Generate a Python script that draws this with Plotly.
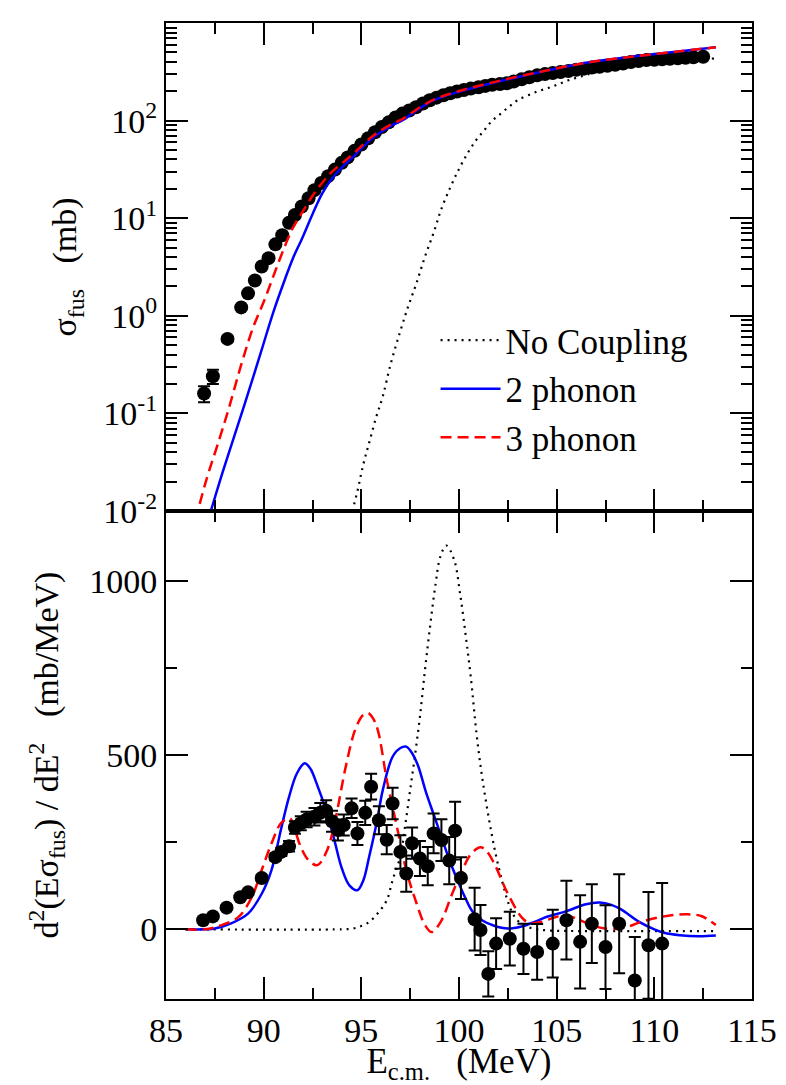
import plotly.graph_objects as go

FONT = "Liberation Serif"

# ---------------- top panel: fusion cross section (mb) ----------------
e_sig = [86.95, 87.4, 88.15, 88.85, 89.2, 89.55, 89.9, 90.25, 90.6, 90.95, 91.3, 91.6,
         91.95, 92.3, 92.6, 92.95, 93.3, 93.65, 94.0, 94.3, 94.65, 95.0, 95.35, 95.7,
         96.05, 96.4, 96.75, 97.1, 97.45, 97.8, 98.15, 98.5, 98.85, 99.2, 99.55, 99.9,
         100.25, 100.6, 101.0, 101.35, 101.7, 102.1, 102.45, 102.8, 103.2, 103.6, 104.0,
         104.4, 104.8, 105.2, 105.6, 106.0, 106.4, 106.8, 107.2, 107.6, 108.0, 108.4,
         108.8, 109.2, 109.6, 110.0, 110.4, 110.8, 111.2, 111.6, 112.0, 112.5]
sig = [0.16, 0.24, 0.58, 1.22, 1.7, 2.3, 3.2, 3.9, 5.4, 6.7, 9.0, 10.8,
       13.2, 16.0, 19.4, 23.0, 27.0, 31.5, 37.0, 42.0, 49.0, 57.0, 66.0, 76.0,
       86.0, 96.0, 108.0, 118.0, 127.0, 137.0, 150.0, 162.0, 172.0, 182.0, 191.0, 199.0,
       206.0, 213.0, 220.0, 227.0, 233.0, 237.0, 242.0, 252.0, 265.0, 278.0, 291.0,
       300.0, 308.0, 315.0, 322.0, 332.0, 341.0, 350.0, 357.0, 365.0, 374.0, 385.0,
       398.0, 408.0, 417.0, 421.0, 425.0, 430.0, 436.0, 441.0, 446.0, 452.0]
sig_err = [0.03, 0.04, 0.03, 0.05, 0.07, 0.09, 0.12, 0.15, 0.2, 0.25, 0.3, 0.35,
           0.4, 0.5, 0.6, 0.7, 0.8, 0.9, 1.0, 1.1, 1.2, 1.4, 1.5, 1.7,
           1.9, 2.1, 2.3, 2.5, 2.7, 2.9, 3.1, 3.3, 3.5, 3.7, 3.9, 4.1,
           4.3, 4.5, 4.6, 4.8, 5.0, 5.1, 5.2, 5.3, 5.5, 5.7, 5.9,
           6.0, 6.2, 6.3, 6.5, 6.6, 6.8, 7.0, 7.1, 7.3, 7.5, 7.7,
           7.9, 8.1, 8.3, 8.4, 8.5, 8.6, 8.7, 8.8, 8.9, 9.0]

e_nc_top = [94.45, 94.8, 95.1, 95.4, 95.75, 96.1, 96.5, 96.97, 97.4, 97.83, 98.25, 98.7,
            99.1, 99.57, 100.0, 100.43, 100.85, 101.3, 101.7, 102.16, 102.6, 103.03,
            103.9, 104.76, 105.6, 106.5, 107.35, 108.2, 109.1, 109.94, 110.8, 111.67,
            112.4, 113.1]
nc_top = [0.0085, 0.016, 0.03, 0.05, 0.09, 0.15, 0.32, 0.67, 1.25, 2.18, 4.0, 7.1,
          12.5, 21.0, 32.0, 46.0, 62.0, 80.0, 100.0, 119.0, 141.0, 163.0,
          195.0, 223.0, 259.0, 294.0, 326.0, 357.0, 382.0, 402.0, 420.0, 432.0,
          436.0, 432.0]

e_2ph_top = [87.15, 87.9, 88.5, 89.2, 89.9, 90.5, 91.1, 91.5, 91.95, 92.5, 93.0, 93.5,
             94.0, 94.55, 95.6, 96.5, 97.14, 98.5, 100.0, 102.0, 104.0, 105.45, 107.0,
             108.9, 111.0, 113.15]
s_2ph_top = [0.008, 0.025, 0.059, 0.16, 0.45, 1.1, 2.4, 3.9, 6.1, 11.0, 18.0, 25.5,
             33.0, 42.0, 67.0, 88.0, 102.0, 155.0, 198.0, 251.0, 310.0, 357.0, 405.0,
             453.0, 505.0, 564.0]

e_3ph_top = [86.5, 87.1, 87.63, 88.2, 88.84, 89.45, 90.05, 90.6, 91.09, 91.5, 91.95,
             92.5, 92.99, 93.5, 94.0, 94.55, 95.6, 96.5, 97.14, 98.5, 100.0, 102.0,
             104.0, 105.45, 107.0, 108.9, 111.0, 113.15]
s_3ph_top = [0.008, 0.022, 0.047, 0.11, 0.31, 0.75, 1.47, 2.9, 5.2, 8.0, 11.3,
             17.0, 23.0, 30.0, 36.5, 45.0, 70.0, 91.0, 105.0, 157.0, 201.0, 254.0,
             312.0, 358.0, 406.0, 454.0, 506.0, 566.0]

# ---------------- bottom panel: barrier distribution (mb/MeV) ----------------
e_d2 = [86.9, 87.4, 88.1, 88.8, 89.2, 89.9, 90.6, 90.9, 91.3, 91.6, 91.9, 92.2, 92.6,
        92.9, 93.2, 93.5, 93.8, 94.1, 94.5, 94.8, 95.2, 95.5, 95.9, 96.3, 96.6, 97.0,
        97.3, 97.6, 98.0, 98.4, 98.7, 99.1, 99.5, 99.8, 100.1, 100.8, 101.1, 101.5,
        101.9, 102.6, 103.3, 104.0, 104.8, 105.5, 106.2, 106.8, 107.5, 108.2, 109.0,
        109.7, 110.4]
d2 = [26, 37, 62, 92, 106, 147, 207, 222, 238, 292, 304, 315, 323,
      334, 340, 310, 285, 299, 347, 275, 334, 409, 313, 257, 361, 222,
      160, 247, 203, 181, 275, 256, 197, 283, 147, 29, -2, -128,
      -41, -27, -56, -65, -41, 26, -36, 16, -51, 16, -147,
      -46, -41]
d2_err = [5, 5, 6, 6, 7, 8, 10, 12, 15, 18, 20, 22, 25,
          28, 30, 30, 30, 30, 28, 33, 35, 37, 40, 42, 45, 48,
          52, 45, 50, 55, 57, 60, 68, 83, 60, 90, 72, 65,
          73, 77, 72, 80, 97, 113, 134, 113, 120, 142, 125,
          153, 174]

e_nc_d2 = [86.0, 94.0, 94.55, 94.9, 95.4, 95.9, 96.3, 96.6, 97.0, 97.25, 97.5, 97.75,
           98.0, 98.25, 98.5, 98.8, 99.05, 99.35, 99.75, 100.05, 100.35, 100.6, 100.9,
           101.15, 101.4, 101.65, 101.9, 102.2, 102.5, 102.8, 103.2, 103.8, 104.5,
           106.0, 108.0, 110.0, 113.1]
nc_d2 = [0, 0, 2, 7, 21, 50, 83, 141, 210, 300, 400, 500,
         610, 740, 860, 990, 1070, 1101, 1060, 965, 840, 725, 560,
         450, 360, 280, 210, 140, 80, 40, 15, 2, -3,
         -5, -5, -5, -5]

e_2ph_d2 = [86.0, 87.0, 87.5, 88.3, 89.2, 89.9, 90.4, 90.9, 91.3, 91.7, 92.1, 92.4,
            92.7, 93.2, 93.6, 94.0, 94.4, 94.8, 95.1, 95.4, 95.8, 96.1, 96.6, 97.0,
            97.3, 97.6, 97.9, 98.3, 98.7, 99.1, 99.6, 100.2, 100.7, 101.2, 101.8,
            102.5, 103.2, 103.9, 104.5, 105.4, 106.5, 107.2, 107.8, 108.3, 109.2,
            110.0, 110.5, 111.3, 112.3, 113.15]
d2_2ph = [0, 0, 2, 16, 45, 102, 170, 290, 380, 447, 476, 460,
          420, 340, 260, 175, 125, 112, 140, 208, 310, 400, 495, 520,
          524, 505, 470, 395, 330, 265, 185, 105, 50, 25, 10,
          2, 8, 22, 36, 50, 72, 77, 70, 57, 22,
          0, -10, -17, -20, -18]

e_3ph_d2 = [86.0, 87.0, 87.8, 88.7, 89.4, 89.9, 90.4, 90.9, 91.35, 91.6, 91.9, 92.3,
            92.75, 93.25, 93.7, 94.2, 94.7, 95.1, 95.35, 95.6, 95.85, 96.3, 96.8,
            97.3, 97.83, 98.26, 98.6, 99.1, 99.6, 100.1, 100.6, 101.1, 101.4, 101.8,
            102.5, 103.2, 103.6, 104.2, 104.8, 105.3, 105.7, 106.2, 106.8, 107.4,
            108.2, 108.8, 109.3, 110.3, 111.0, 111.7, 112.4, 113.15]
d2_3ph = [0, 0, 11, 35, 93, 170, 246, 305, 318, 285, 236, 198,
          184, 227, 323, 466, 575, 615, 620, 605, 570, 430, 300,
          170, 74, 12, -8, 25, 95, 160, 215, 235, 225, 189,
          102, 35, 18, 21, 32, 40, 37, 26, 12, 3,
          2, 10, 21, 35, 41, 43, 38, 12]

legend_names = ["No Coupling", "2 phonon", "3 phonon"]
x_ticks = [85, 90, 95, 100, 105, 110, 115]
y_top_ticks = [0.01, 0.1, 1, 10, 100, 1000]
y_top_ticktext = ["10<sup>-2</sup>", "10<sup>-1</sup>", "10<sup>0</sup>",
                  "10<sup>1</sup>", "10<sup>2</sup>", "10<sup>3</sup>"]
y_bot_ticks = [0, 500, 1000]

fig = go.Figure()

# top panel
fig.add_trace(go.Scatter(x=e_sig, y=sig, mode="markers", showlegend=False,
                         marker=dict(color="black", size=14),
                         error_y=dict(type="data", array=sig_err, color="black",
                                      thickness=2, width=6),
                         xaxis="x", yaxis="y"))
fig.add_trace(go.Scatter(x=e_nc_top, y=nc_top, mode="lines", name=legend_names[0],
                         line=dict(color="black", width=2.2, dash="2px,5px", shape="spline"),
                         xaxis="x", yaxis="y"))
fig.add_trace(go.Scatter(x=e_2ph_top, y=s_2ph_top, mode="lines", name=legend_names[1],
                         line=dict(color="#0000ff", width=2.5, shape="spline"),
                         xaxis="x", yaxis="y"))
fig.add_trace(go.Scatter(x=e_3ph_top, y=s_3ph_top, mode="lines", name=legend_names[2],
                         line=dict(color="#ff0000", width=2.5, dash="11px,6px", shape="spline"),
                         xaxis="x", yaxis="y"))

# bottom panel
fig.add_trace(go.Scatter(x=e_nc_d2, y=nc_d2, mode="lines", showlegend=False,
                         line=dict(color="black", width=2.2, dash="2px,5px", shape="spline"),
                         xaxis="x2", yaxis="y2"))
fig.add_trace(go.Scatter(x=e_2ph_d2, y=d2_2ph, mode="lines", showlegend=False,
                         line=dict(color="#0000ff", width=2.5, shape="spline"),
                         xaxis="x2", yaxis="y2"))
fig.add_trace(go.Scatter(x=e_3ph_d2, y=d2_3ph, mode="lines", showlegend=False,
                         line=dict(color="#ff0000", width=2.5, dash="11px,6px", shape="spline"),
                         xaxis="x2", yaxis="y2"))
fig.add_trace(go.Scatter(x=e_d2, y=d2, mode="markers", showlegend=False,
                         marker=dict(color="black", size=14),
                         error_y=dict(type="data", array=d2_err, color="black",
                                      thickness=2, width=6),
                         xaxis="x2", yaxis="y2"))

axis_common = dict(showline=True, linecolor="black", linewidth=2, mirror="ticks",
                   ticks="inside", ticklen=22, tickwidth=2, tickcolor="black",
                   showgrid=False, zeroline=False,
                   tickfont=dict(family=FONT, size=34, color="black"))

# the page body adds an 8 px offset, so the figure is 8 px smaller than the window
fig.update_layout(
    width=778, height=1077,
    margin=dict(l=158, r=34, t=15, b=86, autoexpand=False),
    paper_bgcolor="white", plot_bgcolor="white",
    font=dict(family=FONT, color="black"),
    xaxis=dict(axis_common, domain=[0, 1], anchor="y", range=[85, 115],
               tickmode="array", tickvals=x_ticks, showticklabels=False,
               minor=dict(ticks="inside", ticklen=11, tickwidth=2, tickcolor="black",
                          dtick=2.5, tick0=85, showgrid=False)),
    yaxis=dict(axis_common, domain=[0.5, 1], anchor="x", type="log", range=[-2, 3.0005],
               tickmode="array", tickvals=y_top_ticks, ticktext=y_top_ticktext,
               minor=dict(ticks="inside", ticklen=11, tickwidth=2, tickcolor="black",
                          dtick="D1", showgrid=False),
               title=dict(text="σ<sub>fus</sub>\u00a0\u00a0\u00a0(mb)", standoff=16,
                          font=dict(family=FONT, size=34, color="black"))),
    xaxis2=dict(axis_common, domain=[0, 1], anchor="y2", range=[85, 115],
                tickmode="array", tickvals=x_ticks,
                minor=dict(ticks="inside", ticklen=11, tickwidth=2, tickcolor="black",
                           dtick=2.5, tick0=85, showgrid=False),
                title=dict(text="E<sub>c.m.</sub>\u00a0\u00a0\u00a0(MeV)", standoff=6,
                           font=dict(family=FONT, size=35, color="black"))),
    yaxis2=dict(axis_common, domain=[0, 0.5], anchor="x2", range=[-200, 1200],
                tickmode="array", tickvals=y_bot_ticks,
                minor=dict(ticks="inside", ticklen=11, tickwidth=2, tickcolor="black",
                           dtick=250, tick0=0, showgrid=False),
                title=dict(text="d<sup>2</sup>(Eσ<sub>fus</sub>) / dE<sup>2</sup>\u00a0\u00a0\u00a0(mb/MeV)",
                           standoff=20, font=dict(family=FONT, size=34, color="black"))),
    legend=dict(x=0.46, y=0.705, xanchor="left", yanchor="top",
                bgcolor="rgba(0,0,0,0)", borderwidth=0,
                font=dict(family=FONT, size=35, color="black"),
                itemwidth=60, tracegroupgap=0),
    showlegend=True,
)

fig.write_html("out.html")
